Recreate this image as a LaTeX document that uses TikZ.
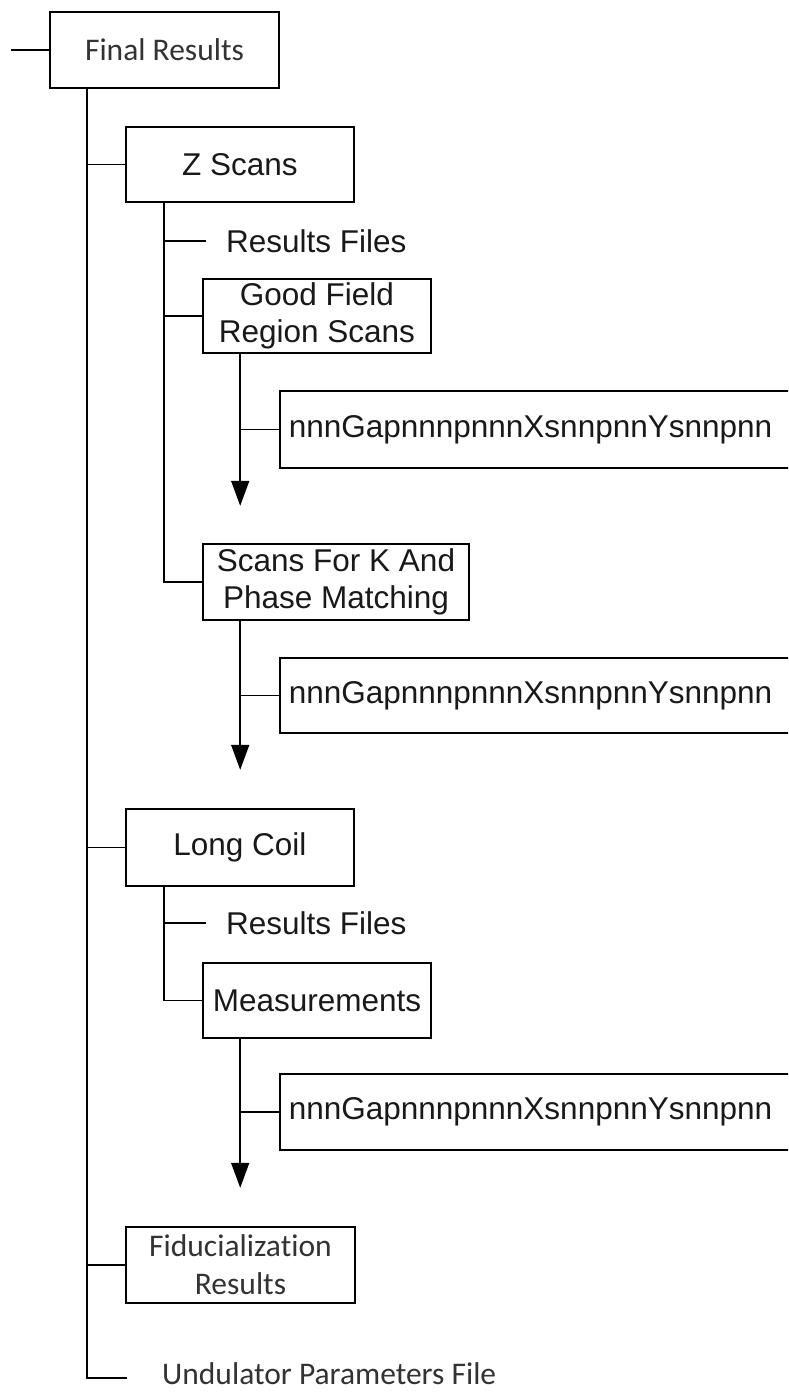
\documentclass[tikz,border=0pt]{standalone}
\usepackage{fontspec}
\usetikzlibrary{arrows.meta,calc}
\newfontfamily\arialf{Liberation Sans}
\newfontfamily\calf[Ligatures=NoCommon]{Carlito}
\begin{document}
\begin{tikzpicture}[x=1pt,y=-1pt,
  ln/.style={line width=1.6pt, draw=black},
  arr/.style={ln, -{Triangle[width=18pt,length=25pt]}},
  boxbase/.style={draw=black, line width=1.6pt, inner sep=0pt, align=center, fill=white},
  abox/.style={boxbase, font=\arialf\fontsize{31.5}{37}\selectfont, text=black!90},
  cbox/.style={boxbase, font=\calf\fontsize{31.5}{38}\selectfont, text=black!80},
  fbox/.style={draw=black, line width=1.6pt, inner xsep=9pt, inner ysep=0pt, anchor=west,
     text width=560pt, align=left, font=\arialf\fontsize{31.5}{37}\selectfont, text=black!90},
  atext/.style={inner sep=0pt, anchor=west, font=\arialf\fontsize{31.5}{37}\selectfont, text=black!90},
  ctext/.style={inner sep=0pt, anchor=base west, font=\calf\fontsize{31.5}{38}\selectfont, text=black!80}
]
\path[use as bounding box, clip] (0,0) rectangle (788,1393);
\fill[white] (0,0) rectangle (788,1393);

% nodes
\node[cbox, minimum width=229pt, minimum height=76pt] (fr) at (164.5,50) {Final Results};
\node[abox, minimum width=228pt, minimum height=75pt] (zs) at (240,164.5) {Z Scans};
\node[atext] (rf1) at (226,241) {Results Files};
\node[abox, minimum width=228pt, minimum height=74pt] (gf) at (317,316) {Good Field\\Region Scans};
\node[fbox, minimum height=77pt] (n1) at (279,429.5) {nnnGapnnnpnnnXsnnpnnYsnnpnn};
\node[abox, minimum width=266pt, minimum height=76pt] (sk) at (336,582) {Scans For K And\\Phase Matching};
\node[fbox, minimum height=75pt] (n2) at (279,695.5) {nnnGapnnnpnnnXsnnpnnYsnnpnn};
\node[abox, minimum width=228pt, minimum height=77pt] (lc) at (240,847.5) {Long Coil};
\node[atext] (rf2) at (226,923) {Results Files};
\node[abox, minimum width=228pt, minimum height=75pt] (ms) at (317,1000.5) {Measurements};
\node[fbox, minimum height=76pt] (n3) at (279,1112) {nnnGapnnnpnnnXsnnpnnYsnnpnn};
\node[cbox, minimum width=229pt, minimum height=76pt] (fid) at (240.5,1265) {Fiducialization\\Results};
\node[ctext] (up) at (162,1384) {Undulator Parameters File};

% named free ends
\coordinate (stub) at (11,50);
\coordinate (upend) at (127,1378);
\coordinate (rf1end) at (206,241);
\coordinate (rf2end) at (206,923);
\coordinate (t0) at ($(fr.south west)+(38,0)$);
\coordinate (t1) at ($(zs.south west)+(39,0)$);
\coordinate (t2) at ($(lc.south west)+(39,0)$);
\coordinate (a1s) at ($(gf.south west)+(38,0)$);
\coordinate (a2s) at ($(sk.south west)+(38,0)$);
\coordinate (a3s) at ($(ms.south west)+(38,0)$);
\coordinate (a1e) at ($(a1s)+(0,152)$);
\coordinate (a2e) at ($(a2s)+(0,149)$);
\coordinate (a3e) at ($(a3s)+(0,149)$);

% connectors
\draw[ln] (stub) -- (fr.west);
\draw[ln] (t0) |- (zs.west);
\draw[ln] (t0) |- (lc.west);
\draw[ln] (t0) |- (fid.west);
\draw[ln] (t0) |- (upend);

\draw[ln] (t1) |- (rf1end);
\draw[ln] (t1) |- (gf.west);
\draw[ln] (t1) |- (sk.west);

\draw[ln] (t2) |- (rf2end);
\draw[ln] (t2) |- (ms.west);

\draw[arr] (a1s) -- (a1e);
\draw[ln] (n1.west) -- (n1.west -| a1s);
\draw[arr] (a2s) -- (a2e);
\draw[ln] (n2.west) -- (n2.west -| a2s);
\draw[arr] (a3s) -- (a3e);
\draw[ln] (n3.west) -- (n3.west -| a3s);
\end{tikzpicture}
\end{document}
